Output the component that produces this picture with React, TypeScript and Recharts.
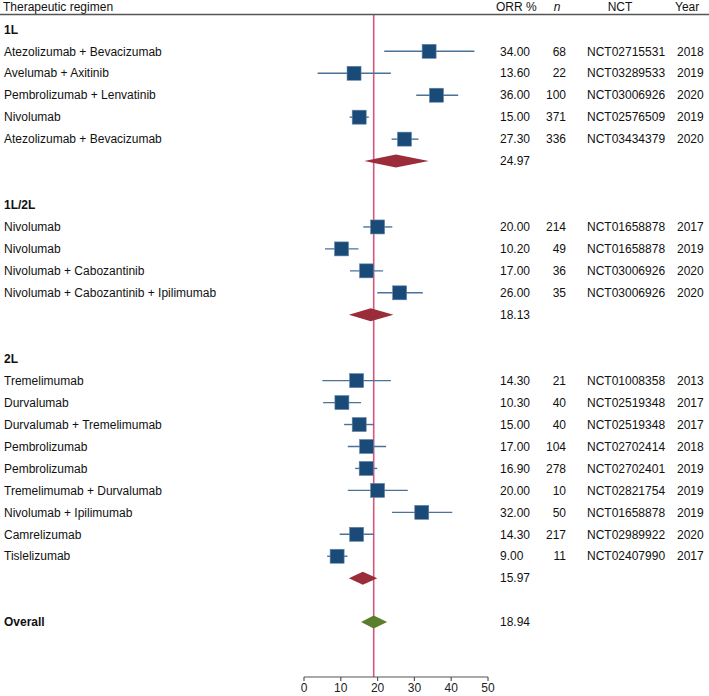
import * as Recharts from 'recharts';
import { ErrorBar, ReferenceLine, Scatter, ScatterChart, XAxis, YAxis } from 'recharts';

const rc = Recharts as any;

const FONT = '"Liberation Sans", Arial, Helvetica, sans-serif';

const groups = ['1L', '1L/2L', '2L'];

const regimens = [
  'Atezolizumab + Bevacizumab',
  'Avelumab + Axitinib',
  'Pembrolizumab + Lenvatinib',
  'Nivolumab',
  'Atezolizumab + Bevacizumab',
  'Nivolumab',
  'Nivolumab',
  'Nivolumab + Cabozantinib',
  'Nivolumab + Cabozantinib + Ipilimumab',
  'Tremelimumab',
  'Durvalumab',
  'Durvalumab + Tremelimumab',
  'Pembrolizumab',
  'Pembrolizumab',
  'Tremelimumab + Durvalumab',
  'Nivolumab + Ipilimumab',
  'Camrelizumab',
  'Tislelizumab',
];
const regimenGroup = [0, 0, 0, 0, 0, 1, 1, 1, 1, 2, 2, 2, 2, 2, 2, 2, 2, 2];
const orr = [34.0, 13.6, 36.0, 15.0, 27.3, 20.0, 10.2, 17.0, 26.0, 14.3, 10.3, 15.0, 17.0, 16.9, 20.0, 32.0, 14.3, 9.0];
const ciLow = [21.8, 3.7, 30.5, 12.4, 23.8, 16.1, 5.7, 12.5, 19.9, 5.0, 5.2, 10.9, 11.9, 13.9, 11.9, 23.9, 9.7, 6.3];
const ciHigh = [46.3, 23.6, 41.9, 17.6, 31.1, 24.0, 14.8, 21.5, 32.3, 23.6, 15.5, 19.0, 22.3, 19.9, 28.2, 40.3, 19.0, 11.8];
const patients = [68, 22, 100, 371, 336, 214, 49, 36, 35, 21, 40, 40, 104, 278, 10, 50, 217, 11];
const nctIds = [
  'NCT02715531', 'NCT03289533', 'NCT03006926', 'NCT02576509', 'NCT03434379',
  'NCT01658878', 'NCT01658878', 'NCT03006926', 'NCT03006926',
  'NCT01008358', 'NCT02519348', 'NCT02519348', 'NCT02702414', 'NCT02702401',
  'NCT02821754', 'NCT01658878', 'NCT02989922', 'NCT02407990',
];
const years = [2018, 2019, 2020, 2019, 2020, 2017, 2019, 2020, 2020, 2013, 2017, 2017, 2018, 2019, 2019, 2019, 2020, 2017];

const pooledOrr = [24.97, 18.13, 15.97];
const pooledLow = [16.4, 12.2, 12.2];
const pooledHigh = [33.9, 24.3, 19.9];

const overallOrr = 18.94;
const overallLow = 15.5;
const overallHigh = 22.6;

const xTicks = [0, 10, 20, 30, 40, 50];
const X_DOMAIN: [number, number] = [0, 50];

// chart geometry
const W = 709;
const H = 696;
const MARGIN = { top: 14, right: 221, bottom: 0, left: 0 };
const Y_AXIS_W = 304;
const X_AXIS_H = 19;

type Row = {
  y: number;
  kind: 'group' | 'study' | 'pooled' | 'overall';
  label?: string;
  orr?: number;
  lo?: number;
  hi?: number;
  n?: number;
  nct?: string;
  year?: number;
};

const rows: Row[] = [];
let rowIdx = 0;
groups.forEach((g, gi) => {
  rows.push({ y: rowIdx++, kind: 'group', label: g });
  regimens.forEach((name, i) => {
    if (regimenGroup[i] !== gi) return;
    rows.push({
      y: rowIdx++,
      kind: 'study',
      label: name,
      orr: orr[i],
      lo: ciLow[i],
      hi: ciHigh[i],
      n: patients[i],
      nct: nctIds[i],
      year: years[i],
    });
  });
  rows.push({ y: rowIdx++, kind: 'pooled', orr: pooledOrr[gi], lo: pooledLow[gi], hi: pooledHigh[gi] });
  rowIdx++; // blank spacer row
});
rows.push({ y: rowIdx, kind: 'overall', label: 'Overall', orr: overallOrr, lo: overallLow, hi: overallHigh });

const studyPoints = rows
  .filter((r) => r.kind === 'study')
  .map((r) => ({ x: r.orr!, y: r.y, err: [r.orr! - r.lo!, r.hi! - r.orr!] }));

const diamondPoints = rows
  .filter((r) => r.kind === 'pooled' || r.kind === 'overall')
  .map((r) => ({
    x: r.orr!,
    y: r.y,
    lo: r.lo!,
    hi: r.hi!,
    fill: r.kind === 'overall' ? '#5b7d2e' : '#9b2c3a',
  }));

const rowByY = new Map(rows.map((r) => [r.y, r]));

/** value -> pixel on the x axis, preferring the chart's own scale */
function useXPixel() {
  const scale = rc.useXAxisScale ? rc.useXAxisScale() : undefined;
  const area = rc.usePlotArea ? rc.usePlotArea() : undefined;
  return (v: number): number => {
    if (typeof scale === 'function') {
      const p = scale(v);
      if (Number.isFinite(p)) return p;
    }
    if (scale && typeof scale.map === 'function') {
      const p = scale.map(v);
      if (Number.isFinite(p)) return p;
    }
    const left = area ? area.x : MARGIN.left + Y_AXIS_W;
    const width = area ? area.width : W - MARGIN.left - MARGIN.right - Y_AXIS_W;
    return left + ((v - X_DOMAIN[0]) / (X_DOMAIN[1] - X_DOMAIN[0])) * width;
  };
}

function Diamond(props: any) {
  const toPx = useXPixel();
  const { cx, cy, payload } = props;
  if (cx == null || cy == null) return null;
  const l = toPx(payload.lo);
  const r = toPx(payload.hi);
  const h = 6.5;
  return (
    <polygon
      points={`${l},${cy} ${cx},${cy - h} ${r},${cy} ${cx},${cy + h}`}
      fill={payload.fill}
      stroke="none"
    />
  );
}

function Box(props: any) {
  const { cx, cy } = props;
  if (cx == null || cy == null) return null;
  const s = 14;
  return (
    <rect
      x={cx - s / 2}
      y={cy - s / 2}
      width={s}
      height={s}
      fill="#1a4a78"
      stroke="#6585a6"
      strokeWidth={0.6}
    />
  );
}

function RowTick(props: any) {
  const { y, payload } = props;
  const row = rowByY.get(payload?.value);
  if (!row) return null;
  const bold = row.kind === 'group' || row.kind === 'overall';
  const common = { y, dy: '0.35em', fontSize: 12, fontFamily: FONT, fill: '#111' };
  return (
    <g>
      {row.label && (
        <text {...common} x={4} fontWeight={bold ? 'bold' : 'normal'}>
          {row.label}
        </text>
      )}
      {row.orr != null && (
        <text {...common} x={500}>
          {row.orr.toFixed(2)}
        </text>
      )}
      {row.n != null && (
        <text {...common} x={566} textAnchor="end">
          {row.n}
        </text>
      )}
      {row.nct && (
        <text {...common} x={587}>
          {row.nct}
        </text>
      )}
      {row.year != null && (
        <text {...common} x={677}>
          {row.year}
        </text>
      )}
    </g>
  );
}

export default function App() {
  return (
    <div style={{ position: 'absolute', left: 0, top: 0, width: W, height: H, background: '#fff' }}>
      <ScatterChart width={W} height={H} margin={MARGIN}>
        <XAxis
          type="number"
          dataKey="x"
          domain={X_DOMAIN}
          ticks={xTicks}
          interval={0}
          allowDataOverflow
          height={X_AXIS_H}
          axisLine={{ stroke: '#555', strokeWidth: 1.2 }}
          tickLine={{ stroke: '#555', strokeWidth: 1.2 }}
          tickSize={4}
          tickMargin={2}
          tick={{ fontSize: 12, fill: '#222', fontFamily: FONT }}
        />
        <YAxis
          type="number"
          dataKey="y"
          domain={[-0.7, 29.5]}
          reversed
          allowDataOverflow
          ticks={rows.map((r) => r.y)}
          interval={0}
          width={Y_AXIS_W}
          axisLine={false}
          tickLine={false}
          tick={(p: any) => <RowTick {...p} />}
        />
        <ReferenceLine x={overallOrr} stroke="#d2587c" strokeWidth={1.6} />
        <Scatter data={studyPoints} shape={(p: any) => <Box {...p} />} isAnimationActive={false}>
          <ErrorBar dataKey="err" direction="x" width={0} stroke="#4d7298" strokeWidth={1.4} />
        </Scatter>
        <Scatter data={diamondPoints} shape={(p: any) => <Diamond {...p} />} isAnimationActive={false} />
      </ScatterChart>
      <svg
        width={W}
        height={18}
        style={{ position: 'absolute', left: 0, top: 0, pointerEvents: 'none' }}
      >
        <g fontFamily={FONT} fontSize={12} fill="#111">
          <text x={3} y={10.5}>Therapeutic regimen</text>
          <text x={496} y={10.5}>ORR %</text>
          <text x={557} y={10.5} textAnchor="middle" fontStyle="italic">
            n
          </text>
          <text x={620} y={10.5} textAnchor="middle">NCT</text>
          <text x={675} y={10.5}>Year</text>
        </g>
        <line x1={0} x2={W} y1={14.5} y2={14.5} stroke="#555" strokeWidth={1.5} />
      </svg>
    </div>
  );
}
